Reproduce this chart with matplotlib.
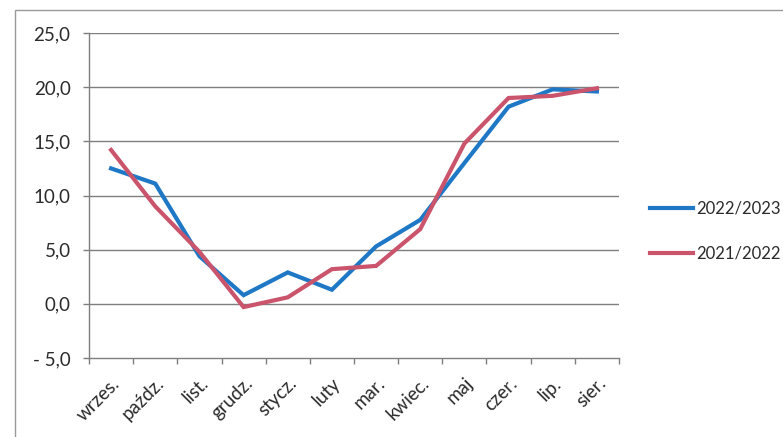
import matplotlib.pyplot as plt
from matplotlib.patches import Rectangle
from matplotlib.lines import Line2D

# Data
months = ['wrzes.', 'paźdz.', 'list.', 'grudz.', 'stycz.', 'luty',
          'mar.', 'kwiec.', 'maj', 'czer.', 'lip.', 'sier.']
season_2022_23 = [12.5, 11.1, 4.4, 0.8, 2.9, 1.3, 5.3, 7.75, 13.0, 18.2, 19.8, 19.6]
season_2021_22 = [14.2, 9.0, 4.8, -0.3, 0.6, 3.2, 3.5, 6.9, 14.8, 19.0, 19.2, 19.9]
y_ticks = [-5, 0, 5, 10, 15, 20, 25]

BLUE = '#1f78c6'
RED = '#c9546c'
GRID = '#7f7f7f'
TEXT = '#2b2b2b'

plt.rcParams['font.family'] = ['Lato', 'DejaVu Sans']


def fmt(v):
    s = f"{abs(v):.1f}".replace('.', ',')
    return ('- ' + s) if v < 0 else s


fig = plt.figure(figsize=(7.83, 4.37), dpi=100)
ax = fig.add_axes([89 / 783, 1 - 358 / 437, 530 / 783, 325 / 437])

x = list(range(len(months)))
ax.plot(x, season_2022_23, color=BLUE, lw=3.0, solid_joinstyle='miter', zorder=3)
ax.plot(x, season_2021_22, color=RED, lw=3.0, solid_joinstyle='miter', zorder=3)

ax.set_xlim(-0.5, len(months) - 0.5)
ax.set_ylim(-5, 25)
ax.set_yticks(y_ticks)
ax.set_yticklabels([fmt(v) for v in y_ticks], fontsize=13.5, color=TEXT)
for v in y_ticks[1:]:
    ax.axhline(v, color=GRID, lw=1.0, zorder=1)

ax.set_xticks(x)
ax.set_xticklabels(months, rotation=45, ha='right', va='top',
                   rotation_mode='anchor', fontsize=13.5, color=TEXT)
ax.set_xticks([i - 0.5 for i in range(len(months) + 1)], minor=True)
ax.tick_params(axis='x', which='major', length=0, pad=12)
ax.tick_params(axis='x', which='minor', length=4.3, color=GRID, width=1)
ax.tick_params(axis='y', length=4.3, color=GRID, width=1, pad=9)

for side in ['top', 'right']:
    ax.spines[side].set_visible(False)
for side in ['left', 'bottom']:
    ax.spines[side].set_color(GRID)
    ax.spines[side].set_linewidth(1.0)

handles = [Line2D([], [], color=BLUE, lw=3.0), Line2D([], [], color=RED, lw=3.0)]
fig.legend(handles, ['2022/2023', '2021/2022'], loc='center left',
           bbox_to_anchor=(650 / 783, 1 - 231 / 437), frameon=False,
           borderpad=0, borderaxespad=0,
           fontsize=12, handlelength=2.6, handletextpad=0.15,
           labelspacing=1.75, labelcolor=TEXT)

# outer chart border
fig.patches.append(Rectangle((15 / 783, -0.05), 1.1, 1 - 10 / 437 + 0.05,
                             transform=fig.transFigure, fill=False,
                             edgecolor='#999999', lw=1.0))

fig.savefig('out.png', dpi=100)
